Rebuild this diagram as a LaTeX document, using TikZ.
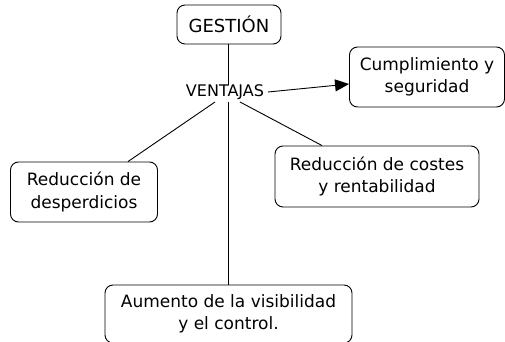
\documentclass[tikz,border=0pt]{standalone}
\usepackage{fontspec}
\setmainfont{DejaVu Sans}
\usetikzlibrary{arrows.meta}
\begin{document}
\begin{tikzpicture}[x=1pt,y=-1pt,
  box/.style={draw, rounded corners=8pt, line width=0.9pt, align=center,
    font=\fontsize{17}{22.5}\selectfont, inner sep=0pt},
  link/.style={line width=0.9pt}]
\useasboundingbox (0,0) rectangle (505,342);
\node[box, minimum width=104pt, minimum height=39pt, font=\fontsize{18}{22}\selectfont] (g) at (229,24.5) {GESTIÓN};
\node[font=\fontsize{16}{18}\selectfont, inner sep=1pt] (v) at (225,92) {VENTAJAS};
\node[box, minimum width=155pt, minimum height=60pt] (c) at (427,77) {Cumplimiento y\\seguridad};
\node[box, minimum width=204pt, minimum height=61pt] (r) at (377,176.5) {Reducción de costes\\y rentabilidad};
\node[box, minimum width=147pt, minimum height=60pt] (d) at (84,192) {Reducción de\\desperdicios};
\node[box, minimum width=247pt, minimum height=58pt] (a) at (228.5,314) {Aumento de la visibilidad\\y el control.};
\coordinate (vl) at (215,102);
\coordinate (vm) at (228,102);
\coordinate (vr) at (240,102);
\coordinate (vt) at (228,85);
\coordinate (va) at (268,92);
\draw[link] (g.south -| vt) -- (vt);
\draw[link] (vl) -- (d.north -| 128,0);
\draw[link] (vm) -- (a.north -| vm);
\draw[link] (vr) -- (r.north -| 322,0);
\draw[link, -{Triangle[length=14pt, width=12pt]}] (va) -- (c.west |- 0,84);
\end{tikzpicture}
\end{document}
